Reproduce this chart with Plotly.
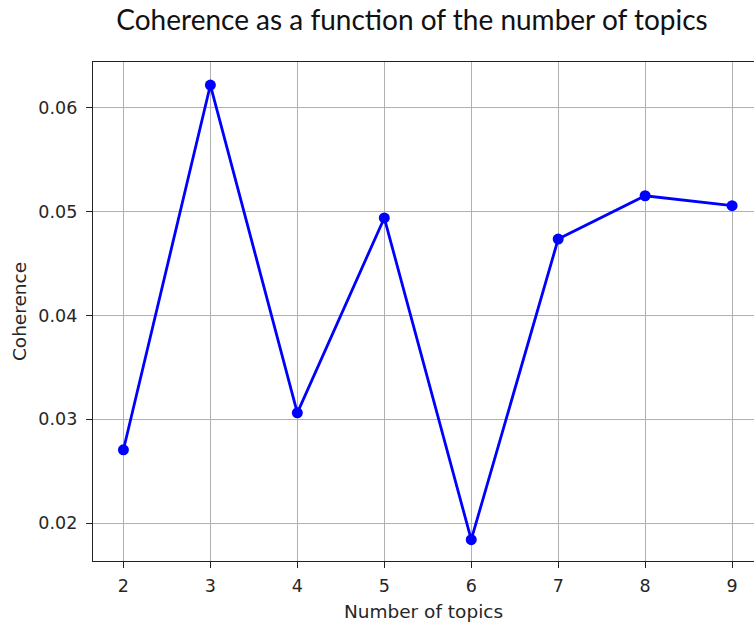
import plotly.graph_objects as go

# Coherence score per number of topics
num_topics = [2, 3, 4, 5, 6, 7, 8, 9]
coherence = [0.02706, 0.06221, 0.03062, 0.04940, 0.01839, 0.04737, 0.05154, 0.05058]
y_ticks = [0.02, 0.03, 0.04, 0.05, 0.06]

W, H = 754, 622
fig = go.Figure()
fig.add_trace(go.Scatter(
    x=num_topics, y=coherence, mode="lines+markers",
    line=dict(color="#0000ff", width=2.8),
    marker=dict(color="#0000ff", size=11),
    showlegend=False,
))

tick_font = dict(family="DejaVu Sans", size=17.5, color="#262626")
label_font = dict(family="DejaVu Sans", size=18.5, color="#262626")
fig.update_layout(
    width=W, height=H,
    margin=dict(l=92.5, r=0, t=62, b=61),
    paper_bgcolor="white", plot_bgcolor="white",
    title=dict(text="Coherence as a function of the number of topics",
               x=412 / W, xanchor="center", y=1 - 20 / H, yanchor="middle",
               font=dict(family="Lato", size=28, color="#111111")),
    font=tick_font,
)
fig.update_xaxes(
    range=[1.65, 9.252], tickvals=num_topics,
    showgrid=True, gridcolor="#b0b0b0", gridwidth=1.4,
    showline=True, linecolor="#222222", linewidth=1.4, mirror=True,
    ticks="outside", ticklen=6, tickwidth=1.3, tickcolor="#222222",
    tickfont=tick_font, ticklabelstandoff=3, zeroline=False,
    title=dict(text="Number of topics", font=label_font, standoff=10),
)
fig.update_yaxes(
    range=[0.01634, 0.06443], tickvals=y_ticks,
    tickformat=".2f",
    showgrid=True, gridcolor="#b0b0b0", gridwidth=1.4,
    showline=True, linecolor="#222222", linewidth=1.4,
    ticks="outside", ticklen=6, tickwidth=1.3, tickcolor="#222222",
    tickfont=tick_font, ticklabelstandoff=5, zeroline=False,
    title=dict(text="Coherence", font=label_font, standoff=6),
)

fig.write_html("out.html")
